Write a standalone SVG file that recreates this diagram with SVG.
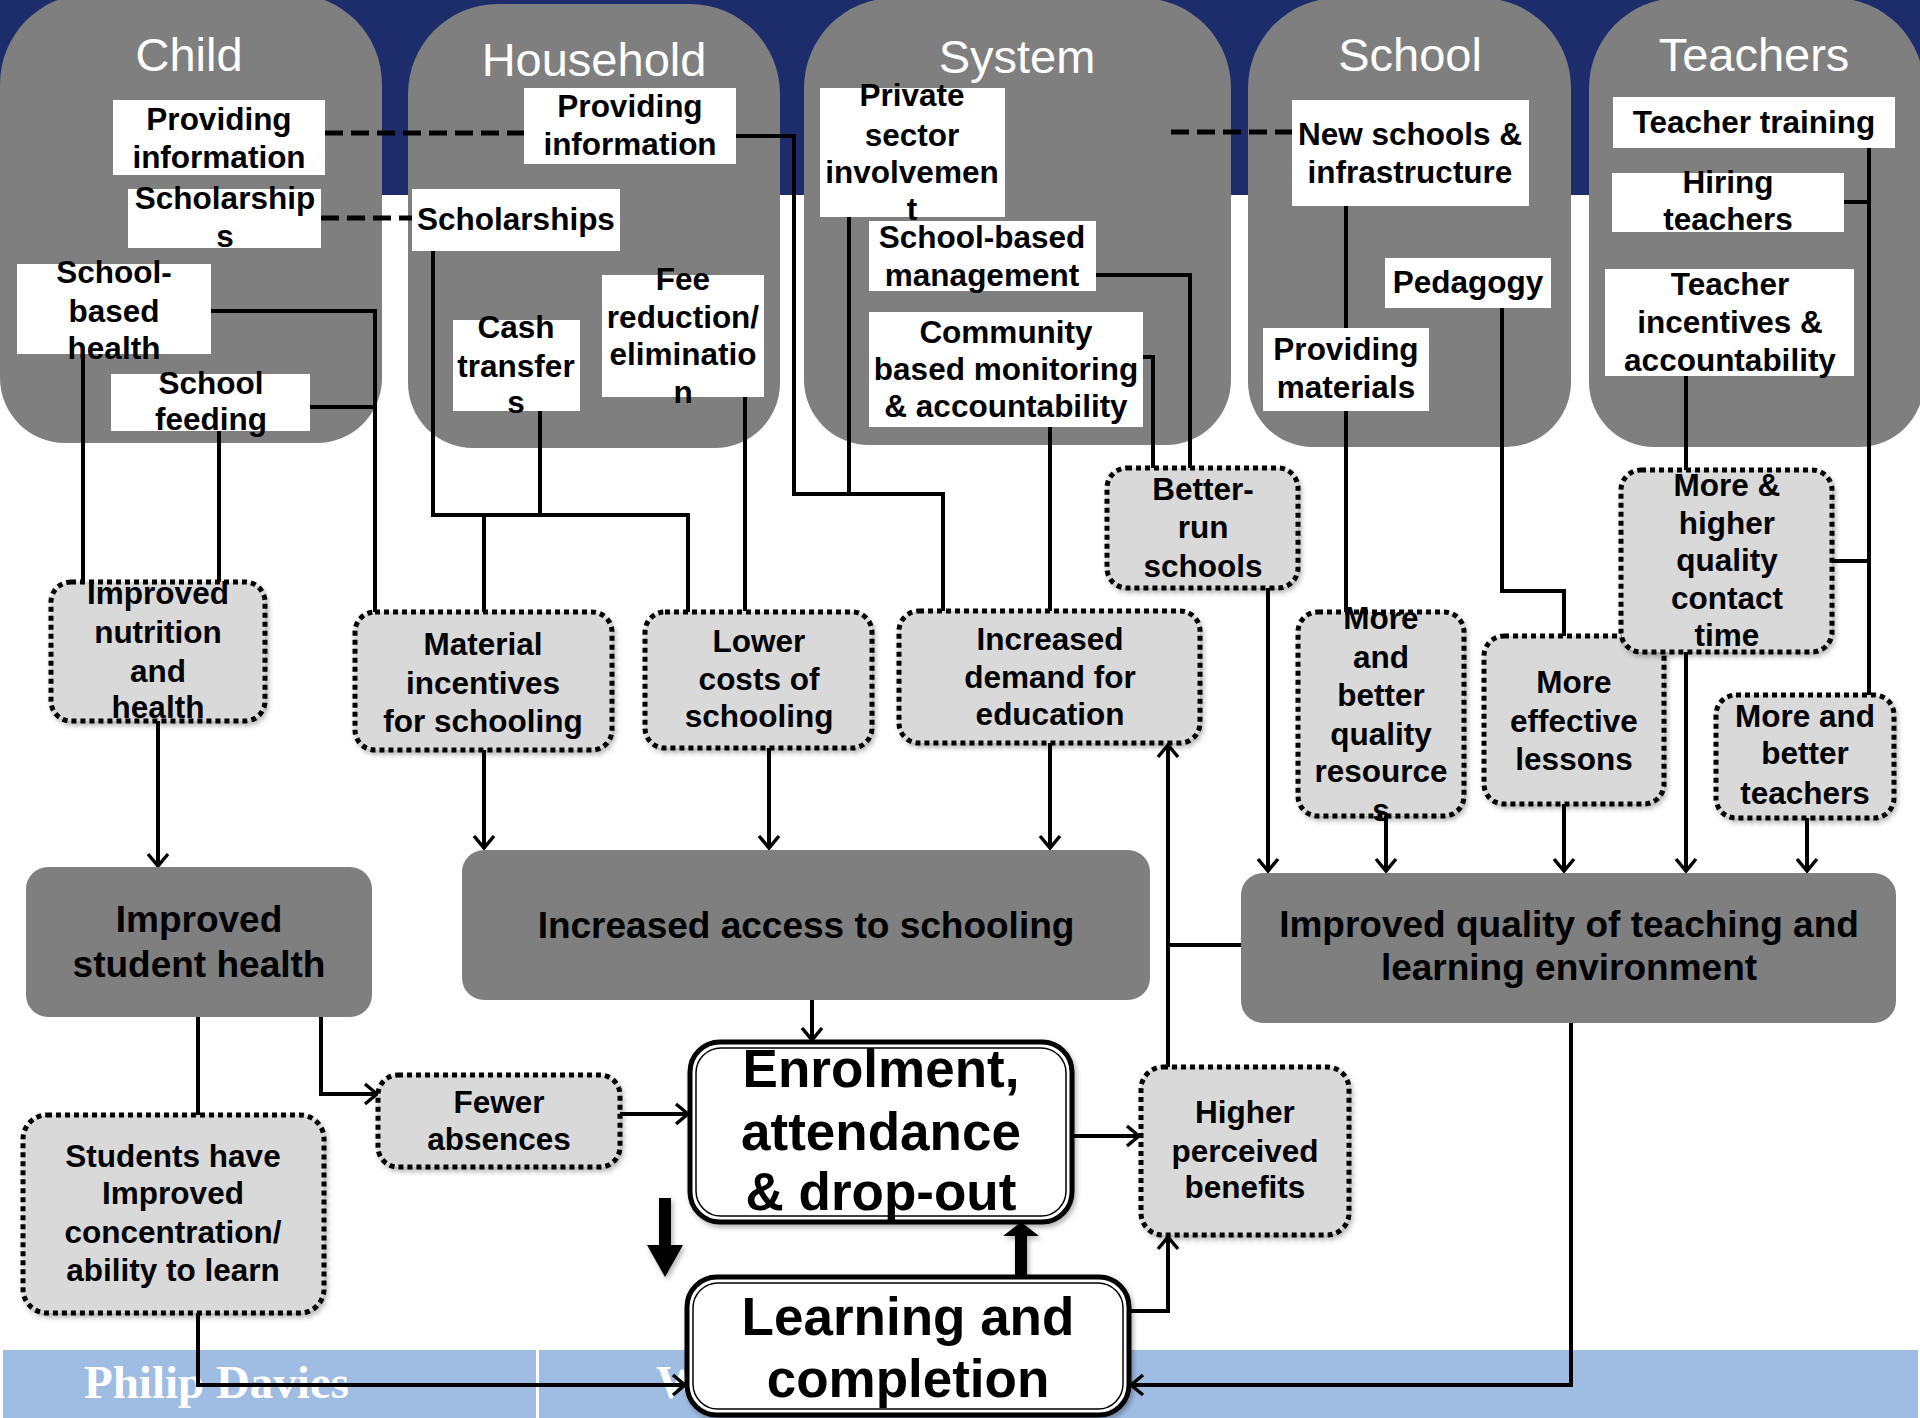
<svg xmlns="http://www.w3.org/2000/svg" width="1920" height="1418" viewBox="0 0 1920 1418">
<defs>
<style>
.col{fill:#7f7f7f}
.title{font-family:"Liberation Sans",Arial,sans-serif;font-size:47px;fill:#fff;text-anchor:middle}
.lbl{fill:#fff}
.t{font-family:"Liberation Sans",Arial,sans-serif;font-weight:bold;font-size:31.5px;fill:#000;text-anchor:middle}
.t37{font-size:37px}
.big{font-size:53px}
.mid{fill:#d9d9d9;stroke:#000;stroke-width:5;stroke-dasharray:5 4;filter:url(#sh)}
.out{fill:#7f7f7f}
.fin{fill:#fff;stroke:#000;stroke-width:5;filter:url(#sh)}
.fin2{fill:none;stroke:#000;stroke-width:1.5}
.ln{fill:none;stroke:#000;stroke-width:4}
.dash{stroke-dasharray:18 8;stroke-width:5}
.arr{marker-end:url(#chev)}
.foot{font-family:"Liberation Serif","Times New Roman",serif;font-weight:bold;font-size:47px;fill:#fff}
</style>
<marker id="chev" viewBox="0 0 16 24" refX="14" refY="12" markerWidth="16" markerHeight="24" markerUnits="userSpaceOnUse" orient="auto">
<path d="M2,2 L14,12 L2,22" fill="none" stroke="#000" stroke-width="3.5"/>
</marker>
<filter id="sh" x="-10%" y="-10%" width="125%" height="125%">
<feDropShadow dx="2" dy="3" stdDeviation="2.5" flood-color="#000" flood-opacity="0.3"/>
</filter>
</defs>

<!-- background bands -->
<rect x="0" y="0" width="1920" height="1418" fill="#fff"/>
<rect x="0" y="0" width="1920" height="195" fill="#1d2d6c"/>
<rect x="3" y="1350" width="1915" height="68" fill="#9fbce2"/>
<rect x="536" y="1350" width="3" height="68" fill="#fff"/>
<text class="foot" x="84" y="1398">Philip Davies</text>
<text class="foot" x="656" y="1398">W</text>

<!-- column panels -->
<g id="col-child">
<path class="col" d="M90,-6 H292 A90,90 0 0 1 382,84 V378 A65,65 0 0 1 317,443 H65 A65,65 0 0 1 0,378 V84 A90,90 0 0 1 90,-6 Z"/>
<text class="title" x="189" y="71">Child</text>
</g>
<g id="col-household">
<path class="col" d="M498,4 H690 A90,90 0 0 1 780,94 V383 A65,65 0 0 1 715,448 H473 A65,65 0 0 1 408,383 V94 A90,90 0 0 1 498,4 Z"/>
<text class="title" x="594" y="76">Household</text>
</g>
<g id="col-system">
<path class="col" d="M894,-2 H1141 A90,90 0 0 1 1231,88 V380 A65,65 0 0 1 1166,445 H869 A65,65 0 0 1 804,380 V88 A90,90 0 0 1 894,-2 Z"/>
<text class="title" x="1017" y="73">System</text>
</g>
<g id="col-school">
<path class="col" d="M1338,-2 H1481 A90,90 0 0 1 1571,88 V382 A65,65 0 0 1 1506,447 H1313 A65,65 0 0 1 1248,382 V88 A90,90 0 0 1 1338,-2 Z"/>
<text class="title" x="1410" y="71">School</text>
</g>
<g id="col-teachers">
<path class="col" d="M1679,-2 H1834 A90,90 0 0 1 1924,88 V382 A65,65 0 0 1 1859,447 H1654 A65,65 0 0 1 1589,382 V88 A90,90 0 0 1 1679,-2 Z"/>
<text class="title" x="1754" y="71">Teachers</text>
</g>

<!-- connectors -->
<g id="connectors">
<path class="ln dash" d="M325,133 H524"/>
<path class="ln dash" d="M321,218 H412"/>
<path class="ln dash" d="M1171,132 H1292"/>
<path class="ln" d="M736,136 H794 V494 H943 V611"/>
<path class="ln" d="M849,217 V494"/>
<path class="ln" d="M1096,275 H1190 V468"/>
<path class="ln" d="M1143,357 H1153 V468"/>
<path class="ln" d="M1050,427 V611"/>
<path class="ln" d="M433,251 V515 H688 V612"/>
<path class="ln" d="M540,411 V515"/>
<path class="ln" d="M484,515 V612"/>
<path class="ln" d="M745,397 V611"/>
<path class="ln" d="M211,311 H375 V612"/>
<path class="ln" d="M310,407 H375"/>
<path class="ln" d="M83,354 V582"/>
<path class="ln" d="M219,431 V582"/>
<path class="ln" d="M1346,206 V612"/>
<path class="ln" d="M1502,308 V591 H1564 V636"/>
<path class="ln" d="M1869,148 V695"/>
<path class="ln" d="M1844,202 H1869"/>
<path class="ln" d="M1832,561 H1869"/>
<path class="ln" d="M1686,376 V470"/>
<path class="ln" d="M198,1017 V1115"/>
<path class="ln" d="M1241,945 H1168"/>
<path class="ln arr" d="M158,721 V866"/>
<path class="ln arr" d="M484,750 V848"/>
<path class="ln arr" d="M769,748 V848"/>
<path class="ln arr" d="M1050,743 V848"/>
<path class="ln arr" d="M1168,1067 V745"/>
<path class="ln arr" d="M1268,588 V871"/>
<path class="ln arr" d="M1386,816 V871"/>
<path class="ln arr" d="M1564,804 V871"/>
<path class="ln arr" d="M1686,652 V871"/>
<path class="ln arr" d="M1807,818 V871"/>
<path class="ln arr" d="M321,1017 V1094 H377"/>
<path class="ln arr" d="M198,1313 V1385 H685"/>
<path class="ln arr" d="M620,1114 H688"/>
<path class="ln arr" d="M812,1000 V1040"/>
<path class="ln arr" d="M1072,1136 H1139"/>
<path class="ln arr" d="M1129,1311 H1168 V1237"/>
<path class="ln arr" d="M1571,1023 V1385 H1131"/>
<g filter="url(#sh)">
<path d="M1015,1277 V1236 H1003 L1021,1222 L1039,1236 H1027 V1277 Z" fill="#000"/>
<path d="M659,1198 H671 V1245 H683 L665,1277 L647,1245 H659 Z" fill="#000"/>
</g>
</g>

<!-- Child interventions -->
<g id="child-info"><rect class="lbl" x="113" y="100" width="212" height="75"/>
<text class="t" x="219" y="130">Providing</text><text class="t" x="219" y="168">information</text></g>
<g id="child-scholarships"><rect class="lbl" x="128" y="189" width="193" height="59"/>
<text class="t" x="225" y="209">Scholarship</text><text class="t" x="225" y="247">s</text></g>
<g id="child-health"><rect class="lbl" x="17" y="264" width="194" height="90"/>
<text class="t" x="114" y="283">School-</text><text class="t" x="114" y="322">based</text><text class="t" x="114" y="359">health</text></g>
<g id="child-feeding"><rect class="lbl" x="111" y="374" width="199" height="57"/>
<text class="t" x="211" y="394">School</text><text class="t" x="211" y="430">feeding</text></g>

<!-- Household interventions -->
<g id="hh-info"><rect class="lbl" x="524" y="88" width="212" height="76"/>
<text class="t" x="630" y="117">Providing</text><text class="t" x="630" y="155">information</text></g>
<g id="hh-scholarships"><rect class="lbl" x="412" y="189" width="208" height="62"/>
<text class="t" x="516" y="230">Scholarships</text></g>
<g id="hh-cash"><rect class="lbl" x="453" y="320" width="127" height="91"/>
<text class="t" x="516" y="338">Cash</text><text class="t" x="516" y="377">transfer</text><text class="t" x="516" y="413">s</text></g>
<g id="hh-fee"><rect class="lbl" x="602" y="275" width="162" height="122"/>
<text class="t" x="683" y="290">Fee</text><text class="t" x="683" y="328">reduction/</text><text class="t" x="683" y="365">eliminatio</text><text class="t" x="683" y="403">n</text></g>

<!-- System interventions -->
<g id="sys-private"><rect class="lbl" x="820" y="88" width="185" height="129"/>
<text class="t" x="912" y="106">Private</text><text class="t" x="912" y="146">sector</text><text class="t" x="912" y="183">involvemen</text><text class="t" x="912" y="220">t</text></g>
<g id="sys-sbm"><rect class="lbl" x="869" y="221" width="227" height="70"/>
<text class="t" x="982" y="248">School-based</text><text class="t" x="982" y="286">management</text></g>
<g id="sys-community"><rect class="lbl" x="869" y="312" width="274" height="115"/>
<text class="t" x="1006" y="343">Community</text><text class="t" x="1006" y="380">based monitoring</text><text class="t" x="1006" y="417">&amp; accountability</text></g>

<!-- School interventions -->
<g id="sch-new"><rect class="lbl" x="1292" y="100" width="237" height="106"/>
<text class="t" x="1410" y="145">New schools &amp;</text><text class="t" x="1410" y="183">infrastructure</text></g>
<g id="sch-pedagogy"><rect class="lbl" x="1385" y="258" width="166" height="50"/>
<text class="t" x="1468" y="293">Pedagogy</text></g>
<g id="sch-materials"><rect class="lbl" x="1263" y="328" width="166" height="83"/>
<text class="t" x="1346" y="360">Providing</text><text class="t" x="1346" y="398">materials</text></g>

<!-- Teacher interventions -->
<g id="tch-training"><rect class="lbl" x="1613" y="97" width="282" height="51"/>
<text class="t" x="1754" y="133">Teacher training</text></g>
<g id="tch-hiring"><rect class="lbl" x="1612" y="173" width="232" height="59"/>
<text class="t" x="1728" y="193">Hiring</text><text class="t" x="1728" y="230">teachers</text></g>
<g id="tch-incentives"><rect class="lbl" x="1605" y="269" width="249" height="107"/>
<text class="t" x="1730" y="295">Teacher</text><text class="t" x="1730" y="333">incentives &amp;</text><text class="t" x="1730" y="371">accountability</text></g>

<!-- intermediate outcomes -->
<g id="mid-nutrition"><rect class="mid" x="51" y="582" width="214" height="139" rx="20"/>
<text class="t" x="158" y="604">Improved</text><text class="t" x="158" y="643">nutrition</text><text class="t" x="158" y="682">and</text><text class="t" x="158" y="718">health</text></g>
<g id="mid-material"><rect class="mid" x="355" y="612" width="257" height="138" rx="20"/>
<text class="t" x="483" y="655">Material</text><text class="t" x="483" y="694">incentives</text><text class="t" x="483" y="732">for schooling</text></g>
<g id="mid-lower"><rect class="mid" x="645" y="612" width="227" height="136" rx="20"/>
<text class="t" x="759" y="652">Lower</text><text class="t" x="759" y="690">costs of</text><text class="t" x="759" y="727">schooling</text></g>
<g id="mid-demand"><rect class="mid" x="899" y="611" width="301" height="132" rx="20"/>
<text class="t" x="1050" y="650">Increased</text><text class="t" x="1050" y="688">demand for</text><text class="t" x="1050" y="725">education</text></g>
<g id="mid-better-run"><rect class="mid" x="1107" y="468" width="191" height="120" rx="20"/>
<text class="t" x="1203" y="500">Better-</text><text class="t" x="1203" y="538">run</text><text class="t" x="1203" y="577">schools</text></g>
<g id="mid-resources"><rect class="mid" x="1298" y="612" width="166" height="204" rx="20"/>
<text class="t" x="1381" y="629">More</text><text class="t" x="1381" y="668">and</text><text class="t" x="1381" y="706">better</text><text class="t" x="1381" y="745">quality</text><text class="t" x="1381" y="782">resource</text><text class="t" x="1381" y="821">s</text></g>
<g id="mid-lessons"><rect class="mid" x="1484" y="636" width="180" height="168" rx="20"/>
<text class="t" x="1574" y="693">More</text><text class="t" x="1574" y="732">effective</text><text class="t" x="1574" y="770">lessons</text></g>
<g id="mid-contact"><rect class="mid" x="1621" y="470" width="211" height="182" rx="20"/>
<text class="t" x="1727" y="496">More &amp;</text><text class="t" x="1727" y="534">higher</text><text class="t" x="1727" y="571">quality</text><text class="t" x="1727" y="609">contact</text><text class="t" x="1727" y="646">time</text></g>
<g id="mid-teachers"><rect class="mid" x="1716" y="695" width="178" height="123" rx="20"/>
<text class="t" x="1805" y="727">More and</text><text class="t" x="1805" y="764">better</text><text class="t" x="1805" y="804">teachers</text></g>
<g id="mid-absences"><rect class="mid" x="378" y="1075" width="242" height="92" rx="20"/>
<text class="t" x="499" y="1113">Fewer</text><text class="t" x="499" y="1150">absences</text></g>
<g id="mid-concentration"><rect class="mid" x="23" y="1115" width="301" height="198" rx="24"/>
<text class="t" x="173" y="1167">Students have</text><text class="t" x="173" y="1204">Improved</text><text class="t" x="173" y="1243">concentration/</text><text class="t" x="173" y="1281">ability to learn</text></g>
<g id="mid-benefits"><rect class="mid" x="1141" y="1067" width="208" height="168" rx="22"/>
<text class="t" x="1245" y="1123">Higher</text><text class="t" x="1245" y="1162">perceived</text><text class="t" x="1245" y="1198">benefits</text></g>

<!-- main outcomes -->
<g id="out-health"><rect class="out" x="26" y="867" width="346" height="150" rx="22"/>
<text class="t t37" x="199" y="932">Improved</text><text class="t t37" x="199" y="977">student health</text></g>
<g id="out-access"><rect class="out" x="462" y="850" width="688" height="150" rx="22"/>
<text class="t t37" x="806" y="938">Increased access to schooling</text></g>
<g id="out-quality"><rect class="out" x="1241" y="873" width="655" height="150" rx="22"/>
<text class="t t37" x="1569" y="937">Improved quality of teaching and</text><text class="t t37" x="1569" y="980">learning environment</text></g>

<!-- final outcomes -->
<g id="fin-enrolment"><rect class="fin" x="690" y="1042" width="382" height="180" rx="30"/>
<rect class="fin2" x="696" y="1048" width="370" height="168" rx="25"/>
<text class="t big" x="881" y="1087">Enrolment,</text><text class="t big" x="881" y="1150">attendance</text><text class="t big" x="881" y="1210">&amp; drop-out</text></g>
<g id="fin-learning"><rect class="fin" x="687" y="1277" width="442" height="138" rx="30"/>
<rect class="fin2" x="693" y="1283" width="430" height="126" rx="25"/>
<text class="t big" x="908" y="1335">Learning and</text><text class="t big" x="908" y="1397">completion</text></g>
</svg>
